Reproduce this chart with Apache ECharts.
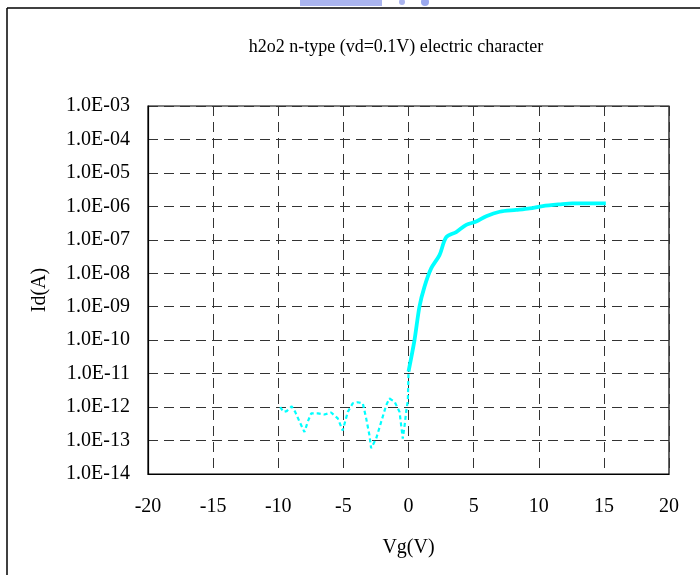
<!DOCTYPE html>
<html>
<head>
<meta charset="utf-8">
<script src="https://cdn.jsdelivr.net/npm/echarts@6/dist/echarts.min.js"></script>
<style>
html,body{margin:0;padding:0;background:#fff;}
#chart{width:700px;height:575px;}
</style>
</head>
<body>
<div id="chart"></div>
<script>
const titleText = 'h2o2 n-type (vd=0.1V) electric character';
const xAxisName = 'Vg(V)';
const yAxisName = 'Id(A)';
const xTicks = [-20, -15, -10, -5, 0, 5, 10, 15, 20];
const yTickLabels = ['1.0E-14','1.0E-13','1.0E-12','1.0E-11','1.0E-10','1.0E-09','1.0E-08','1.0E-07','1.0E-06','1.0E-05','1.0E-04','1.0E-03'];

// Negative gate sweep (noise floor, dotted)
const vgNeg = [-9.85,-9.6,-9.35,-8.97,-8.7,-8.37,-7.99,-7.73,-7.47,-6.96,-6.45,-5.94,-5.43,-5.05,-4.66,-4.28,-3.9,-3.51,-3.25,-3.0,-2.87,-2.48,-2.09,-1.71,-1.46,-1.07,-0.69,-0.44,-0.3,-0.18,-0.05,0.0];
const idNeg = [1.0e-12,7.2e-13,7.6e-13,1.05e-12,7.2e-13,3.7e-13,1.8e-13,3.7e-13,6.5e-13,6.5e-13,6.0e-13,6.9e-13,4.6e-13,2.0e-13,7.2e-13,1.3e-12,1.4e-12,1.3e-12,4.6e-13,1.45e-13,5.9e-14,1.15e-13,3.7e-13,1.15e-12,1.8e-12,1.45e-12,7.2e-13,1.15e-13,2.8e-13,7.2e-13,1.6e-12,1.0e-11];

// Positive gate sweep (solid)
const vgPos = [0.0,0.46,0.84,1.23,1.74,2.38,2.9,3.66,4.43,5.2,5.97,7.0,8.27,9.3,10.3,11.6,12.6,15.15];
const idPos = [1.15e-11,1.0e-10,1.0e-9,4.0e-9,1.4e-8,3.5e-8,1.2e-7,1.7e-7,2.8e-7,3.5e-7,5.1e-7,6.9e-7,7.8e-7,8.7e-7,1.02e-6,1.15e-6,1.23e-6,1.23e-6];

const FONT = '"Liberation Serif", "DejaVu Serif", serif';
const chart = echarts.init(document.getElementById('chart'), null, {renderer:'canvas'});

function fmtY(v){
  const e = Math.round(Math.log10(v));
  const idx = e + 14;
  return yTickLabels[idx] !== undefined ? yTickLabels[idx] : '';
}

const option = {
  backgroundColor: '#fff',
  animation: false,
  title: {
    text: titleText,
    left: 391, top: 33, textAlign: 'center',
    textStyle: {fontFamily: FONT, fontSize: 18, fontWeight: 'normal', color: '#000'}
  },
  grid: {left: 148, top: 106, width: 521, height: 368, show: true, borderColor: '#000', borderWidth: 1.2, backgroundColor: 'transparent'},
  xAxis: {
    type: 'value', min: xTicks[0], max: xTicks[xTicks.length-1], interval: 5,
    name: xAxisName, nameLocation: 'middle', nameGap: 64,
    nameTextStyle: {fontFamily: FONT, fontSize: 20, color: '#000'},
    axisLine: {show: true, onZero: false, lineStyle: {color: '#000', width: 1.2}},
    axisTick: {show: false},
    axisLabel: {fontFamily: FONT, fontSize: 20, color: '#000', margin: 23},
    splitLine: {show: true, lineStyle: {color: '#333', type: [10, 6], width: 1}}
  },
  yAxis: {
    type: 'log', logBase: 10, min: 1e-14, max: 1e-3, interval: 1,
    name: yAxisName, nameLocation: 'middle', nameGap: 98, nameRotate: 90,
    nameTextStyle: {fontFamily: FONT, fontSize: 20, color: '#000'},
    axisLine: {show: true, onZero: false, lineStyle: {color: '#000', width: 1.2}},
    axisTick: {show: false},
    axisLabel: {fontFamily: FONT, fontSize: 20, color: '#000', margin: 18, formatter: fmtY},
    splitLine: {show: true, lineStyle: {color: '#333', type: [10, 6], width: 1}}
  },
  series: [
    {
      type: 'line', data: vgNeg.map((v, i) => [v, idNeg[i]]),
      showSymbol: false, symbol: 'none', smooth: false,
      lineStyle: {color: '#00FFFF', width: 2.2, type: [4, 3]}
    },
    {
      type: 'line', data: vgPos.map((v, i) => [v, idPos[i]]),
      showSymbol: false, symbol: 'none', smooth: 0.3,
      lineStyle: {color: '#00FFFF', width: 3.8, type: 'solid'}
    }
  ],
  graphic: [
    {type: 'line', shape: {x1: 7, y1: 8, x2: 700, y2: 8}, style: {stroke: '#000', lineWidth: 1.5}},
    {type: 'line', shape: {x1: 7, y1: 8, x2: 7, y2: 575}, style: {stroke: '#000', lineWidth: 1.5}},
    {type: 'rect', shape: {x: 300, y: 0, width: 82, height: 6}, style: {fill: '#aab4ee'}},
    {type: 'circle', shape: {cx: 402, cy: 2, r: 3}, style: {fill: '#aab4ee'}},
    {type: 'circle', shape: {cx: 425, cy: 2, r: 4}, style: {fill: '#9aa8ee'}}
  ]
};
chart.setOption(option);
</script>
</body>
</html>
